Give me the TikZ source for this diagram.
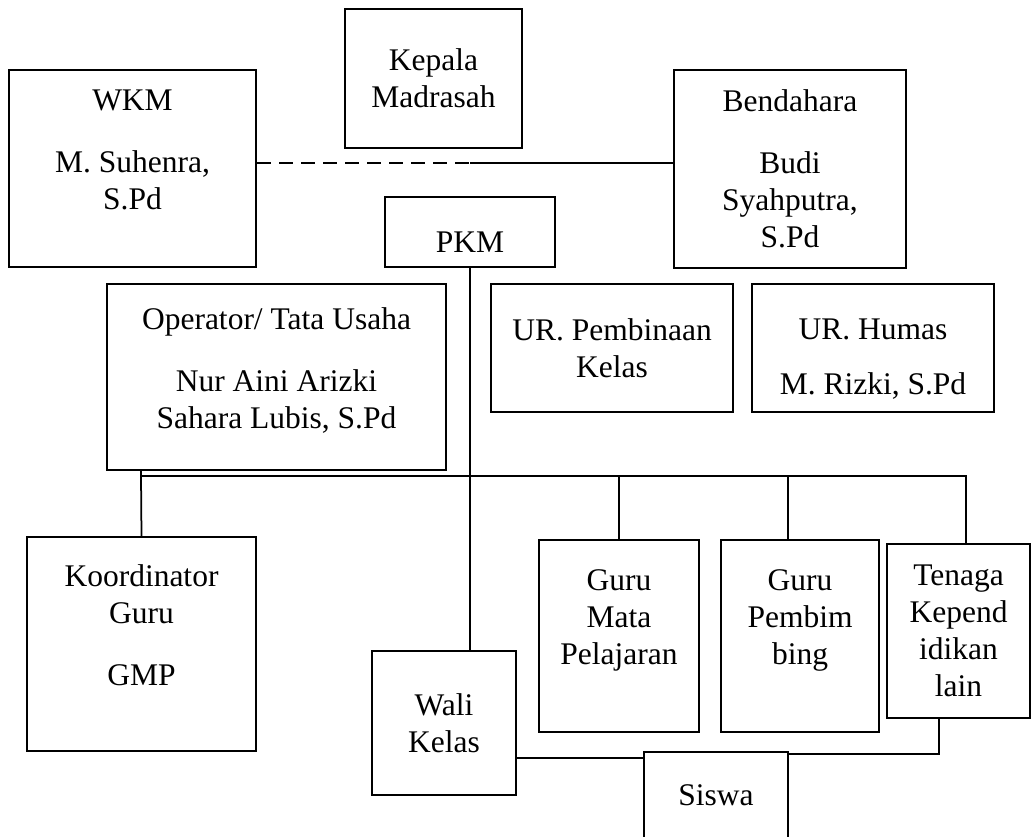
\documentclass[tikz,border=0pt]{standalone}
\usepackage{fontspec}
\setmainfont{Liberation Serif}
\usetikzlibrary{positioning, calc}

\begin{document}
\begin{tikzpicture}[
  x=0.4pt, y=-0.4pt,
  font=\fontsize{12.6}{14.8}\selectfont,
  box/.style={rectangle, draw, line width=0.8pt, align=center, inner sep=0pt},
  link/.style={line width=0.7pt},
  dashlink/.style={line width=0.7pt, dash pattern=on 5.6pt off 3.2pt}
]
  \useasboundingbox (0,0) rectangle (1031,836);

  % pimpinan
  \node[box, minimum width=70.8pt, minimum height=55.6pt] (kepala) at (433.5,78.5) {Kepala\\Madrasah};
  \node[box, minimum width=98.8pt, minimum height=78.8pt] (wkm) at (132.5,168.5) {WKM\\[10pt]M. Suhenra,\\S.Pd\\ \mbox{}};
  \node[box, minimum width=92.8pt, minimum height=79.2pt] (bendahara) at (790,169) {Bendahara\\[10pt]Budi\\Syahputra,\\S.Pd};
  \node[box, minimum width=68pt, minimum height=28pt] (pkm) at (470,232) {\rule{0pt}{16pt}PKM};

  % staf
  \node[box, minimum width=135.6pt, minimum height=74.4pt] (operator) at (276.5,377) {Operator/ Tata Usaha\\[10pt]Nur Aini Arizki\\Sahara Lubis, S.Pd\rule[-7pt]{0pt}{0pt}};
  \node[box, minimum width=96.8pt, minimum height=51.2pt] (urbina) at (612,348) {UR. Pembinaan\\Kelas};
  \node[box, minimum width=96.8pt, minimum height=51.2pt] (urhumas) at (873,348) {\rule{0pt}{17pt}UR. Humas\\[7pt]M. Rizki, S.Pd};

  % pelaksana
  \node[box, minimum width=91.6pt, minimum height=85.6pt] (koordinator) at (141.5,644) {Koordinator\\Guru\\[10pt]GMP\\ \mbox{}};
  \node[box, minimum width=57.6pt, minimum height=57.6pt] (wali) at (444,723) {Wali\\Kelas};
  \node[box, minimum width=64pt, minimum height=76.8pt] (gurumapel) at (619,636) {Guru\\Mata\\Pelajaran\\ \mbox{}};
  \node[box, minimum width=63.2pt, minimum height=76.8pt] (gurubk) at (800,636) {Guru\\Pembim\\bing\\ \mbox{}};
  \node[box, minimum width=57.2pt, minimum height=69.6pt] (tenaga) at (958.5,631) {Tenaga\\Kepend\\idikan\\lain};
  \node[box, minimum width=57.6pt, minimum height=34.4pt] (siswa) at (716,795) {Siswa};

  \coordinate (garis) at (470,163);
  \coordinate (busL) at (141,476);
  \coordinate (busR) at (966,476);

  \draw[dashlink] (wkm.east |- garis) -- (garis);
  \draw[link] (garis) -- (bendahara.west |- garis);
  \draw[link] (pkm.south) -- (pkm.south |- wali.north);
  \draw[link] (busL |- operator.south) -- (busL) -- (busR) -- (busR |- tenaga.north);
  \draw[link] (busL) -- (koordinator.north);
  \draw[link] (gurumapel.north |- busL) -- (gurumapel.north);
  \draw[link] ([xshift=-4.8pt]gurubk.north |- busL) -- ([xshift=-4.8pt]gurubk.north);
  \draw[link] ([yshift=-14pt]wali.east) -- ([yshift=-14pt]wali.east -| siswa.west);
  \draw[link] ([yshift=16.4pt]siswa.east) -| ([xshift=-7.8pt]tenaga.south);
\end{tikzpicture}
\end{document}
